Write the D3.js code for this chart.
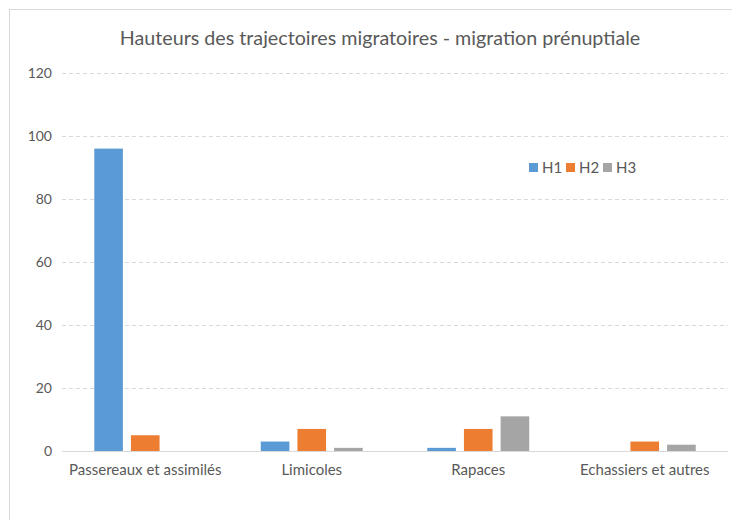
<!DOCTYPE html>
<html>
<head>
<meta charset="utf-8">
<script src="https://cdn.jsdelivr.net/npm/d3@7"></script>
<style>
body { margin: 0; background: #fff; }
text { font-family: Lato, "Open Sans", sans-serif; fill: #595959; }
</style>
</head>
<body>
<svg></svg>
<script>
var WIDTH = 732;
var HEIGHT = 520;

var categories = ['Passereaux et assimilés', 'Limicoles', 'Rapaces', 'Echassiers et autres'];
var seriesNames = ['H1', 'H2', 'H3'];
var h1 = [96, 3, 1, 0];
var h2 = [5, 7, 7, 3];
var h3 = [0, 1, 11, 2];
var yTicks = [0, 20, 40, 60, 80, 100, 120];
var colors = ['#5b9bd5', '#ed7d31', '#a5a5a5'];

var values = [h1, h2, h3];
var data = categories.map(function(cat, i){
	return {cat: cat, vals: seriesNames.map(function(s, j){ return {key: s, value: values[j][i]}; })};
});

var svg = d3.select('svg')
	.attr('width', WIDTH)
	.attr('height', HEIGHT);

// chart frame
svg.append('rect')
	.attr('x', 9.5).attr('y', 9.5)
	.attr('width', 740).attr('height', 540)
	.attr('fill', 'none')
	.attr('stroke', '#d9d9d9');

var x = d3.scaleBand().domain(categories).range([62, 728]).paddingInner(0).paddingOuter(0);
var xInner = d3.scaleBand().domain(seriesNames).range([0, x.bandwidth()]).paddingInner(0.22).paddingOuter(0.88);
var y = d3.scaleLinear().domain([0, 120]).range([451, 73]);

// gridlines
svg.append('g').selectAll('line')
	.data(yTicks.filter(function(t){ return t > 0; }))
	.enter().append('line')
	.attr('x1', 62).attr('x2', 728)
	.attr('y1', function(d){ return Math.round(y(d)) + 0.5; })
	.attr('y2', function(d){ return Math.round(y(d)) + 0.5; })
	.attr('stroke', '#d9d9d9')
	.attr('stroke-dasharray', '4,3');

// y labels
var leftAxis = d3.axisLeft(y).tickValues(yTicks).tickSize(0).tickPadding(0);
var yAxis = svg.append('g').attr('transform', 'translate(52,0)').call(leftAxis);
yAxis.select('.domain').remove();
yAxis.selectAll('text').attr('font-size', 14).style('font-family', 'Lato, sans-serif').attr('fill', '#595959');

// bars
var groups = svg.append('g').selectAll('g')
	.data(data).enter().append('g')
	.attr('transform', function(d){ return 'translate(' + x(d.cat) + ',0)'; });
groups.selectAll('rect')
	.data(function(d){ return d.vals; })
	.enter().append('rect')
	.attr('x', function(d){ return xInner(d.key); })
	.attr('width', xInner.bandwidth())
	.attr('y', function(d){ return y(d.value); })
	.attr('height', function(d){ return y(0) - y(d.value); })
	.attr('fill', function(d, i){ return colors[i]; });

// baseline + category labels
var bottomAxis = d3.axisBottom(x).tickSize(0).tickPadding(13);
var xAxis = svg.append('g').attr('transform', 'translate(0,' + (y(0) + 0.5) + ')').call(bottomAxis);
xAxis.select('.domain').attr('stroke', '#d9d9d9').attr('d', 'M62,0H728');
xAxis.selectAll('text').attr('font-size', 15).style('font-family', 'Lato, sans-serif').attr('fill', '#595959');

// title
svg.append('text')
	.attr('x', 380).attr('y', 45)
	.attr('text-anchor', 'middle')
	.attr('font-size', 19.7)
	.text('Hauteurs des trajectoires migratoires - migration prénuptiale');

// legend
var legend = svg.append('g').attr('transform', 'translate(529,168)');
var items = legend.selectAll('g').data(seriesNames).enter().append('g')
	.attr('transform', function(d, i){ return 'translate(' + (i * 37) + ',0)'; });
items.append('rect')
	.attr('x', 0).attr('y', -5).attr('width', 9).attr('height', 9)
	.attr('fill', function(d, i){ return colors[i]; });
items.append('text')
	.attr('x', 13).attr('y', 5)
	.attr('font-size', 15)
	.text(function(d){ return d; });
</script>
</body>
</html>
